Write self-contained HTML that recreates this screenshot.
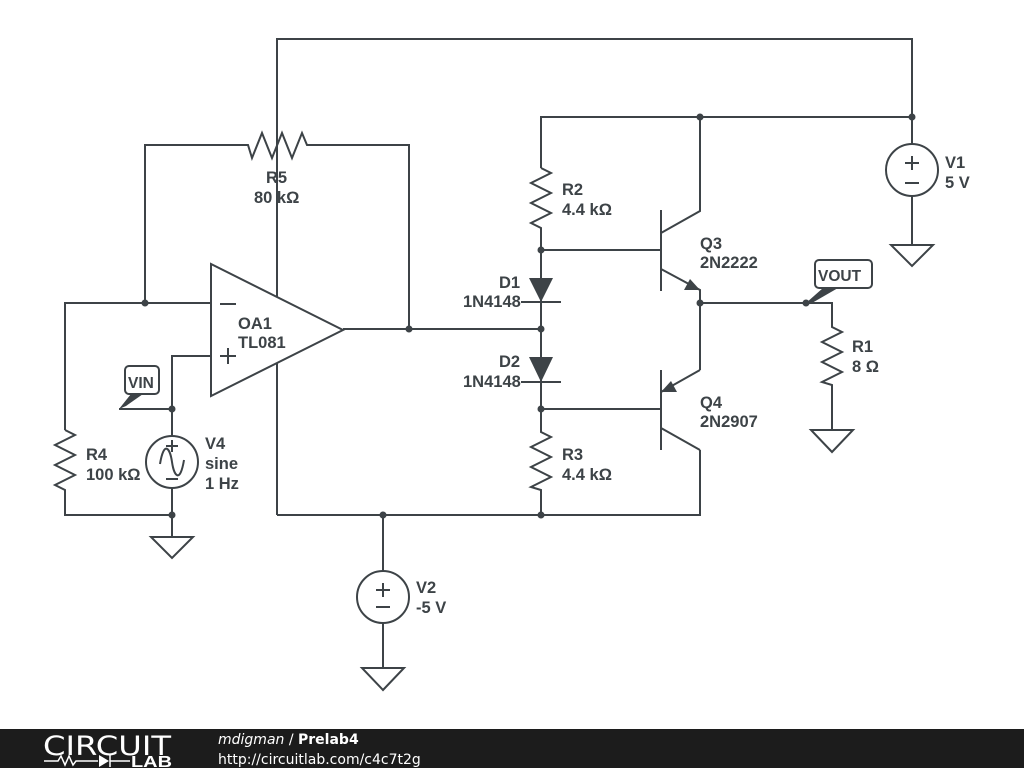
<!DOCTYPE html>
<html><head><meta charset="utf-8"><style>
html,body{margin:0;padding:0;background:#fff;}
svg{display:block;}
text{font-family:"Liberation Sans",Arial,sans-serif;font-weight:bold;font-size:16.5px;fill:#3d4347;}
</style></head><body>
<svg width="1024" height="768" viewBox="0 0 1024 768" xmlns="http://www.w3.org/2000/svg">
<g stroke="#3d4347" stroke-width="2" fill="none" stroke-linejoin="miter">
<polyline points="277,515 277,39 912,39 912,144"/>
<polyline points="145,303 145,145 248,145 252,158 262,133 272,158 282,133 292,158 302,133 307,145 409,145 409,329"/>
<line x1="343" y1="329" x2="541" y2="329"/>
<polyline points="211,303 65,303 65,430"/>
<polyline points="65,430 75,435 55,445 75,455 55,465 75,475 55,485 65,490 65,515 172,515"/>
<polyline points="211,356 172,356 172,436"/>
<line x1="172" y1="488" x2="172" y2="537"/>
<circle cx="172" cy="462" r="26"/>
<path d="M160,464 C164,440 170,448 172,462 C174,476 180,484 184,460"/>
<polygon points="151,537 193,537 172,558"/>
<polygon points="891,245 933,245 912,266"/>
<polygon points="362,668 404,668 383,690"/>
<polygon points="811,430 853,430 832,452"/>
<polyline points="541,168 541,117 912,117"/>
<polyline points="541,168 551,173 531,183 551,193 531,203 551,213 531,223 541,228 541,409"/>
<polyline points="541,409 541,432 551,437 531,447 551,457 531,467 551,477 531,487 541,490 541,515"/>
<line x1="521" y1="302" x2="561" y2="302"/>
<line x1="521" y1="382" x2="561" y2="382"/>
<polyline points="277,515 700,515 700,450"/>
<line x1="383" y1="515" x2="383" y2="571"/>
<line x1="383" y1="623" x2="383" y2="668"/>
<circle cx="383" cy="597" r="26"/>
<circle cx="912" cy="170" r="26"/>
<line x1="912" y1="196" x2="912" y2="245"/>
<line x1="541" y1="250" x2="661" y2="250"/>
<line x1="661" y1="210" x2="661" y2="291"/>
<polyline points="661,233 700,211 700,117"/>
<polyline points="661,269 700,290 700,370"/>
<line x1="541" y1="409" x2="661" y2="409"/>
<line x1="661" y1="370" x2="661" y2="450"/>
<line x1="700" y1="370" x2="661" y2="392"/>
<line x1="661" y1="428" x2="700" y2="450"/>
<polyline points="700,303 832,303 832,327 842,332 822,342 842,352 822,362 842,372 822,382 832,385 832,430"/>
<rect x="125" y="366" width="34" height="28" rx="4" fill="#fff"/>
<rect x="815" y="260" width="57" height="28" rx="4" fill="#fff"/>
</g>
<polygon points="211,264 211,396 343,330" fill="#fff" stroke="#3d4347" stroke-width="2"/>
<g stroke="#3d4347" stroke-width="2">
<line x1="220" y1="304" x2="236" y2="304"/>
<line x1="220" y1="356" x2="236" y2="356"/><line x1="228" y1="348" x2="228" y2="364"/>
<line x1="905" y1="163" x2="919" y2="163"/><line x1="912" y1="156" x2="912" y2="170"/>
<line x1="905" y1="183" x2="919" y2="183"/>
<line x1="376" y1="590" x2="390" y2="590"/><line x1="383" y1="583" x2="383" y2="597"/>
<line x1="376" y1="607" x2="390" y2="607"/>
<line x1="166" y1="446" x2="178" y2="446"/><line x1="172" y1="440" x2="172" y2="452"/>
<line x1="166" y1="479" x2="178" y2="479"/>
</g>
<g fill="#3d4347">
<polygon points="529,278 553,278 541,302"/>
<polygon points="529,357 553,357 541,382"/>
<polygon points="700,290 684,290 690,279"/>
<polygon points="661,392 677,392 671,381"/>
<polygon points="119,409 131,394 143,394 126,406"/>
<line x1="119" y1="409" x2="172" y2="409" stroke="#3d4347" stroke-width="2"/>
<polygon points="806,303 823,288 838,288 812,303"/>
<circle cx="145" cy="303" r="3.5"/><circle cx="409" cy="329" r="3.5"/>
<circle cx="172" cy="409" r="3.5"/><circle cx="172" cy="515" r="3.5"/>
<circle cx="541" cy="250" r="3.5"/><circle cx="541" cy="329" r="3.5"/>
<circle cx="541" cy="409" r="3.5"/><circle cx="541" cy="515" r="3.5"/>
<circle cx="383" cy="515" r="3.5"/><circle cx="700" cy="117" r="3.5"/>
<circle cx="912" cy="117" r="3.5"/><circle cx="700" cy="303" r="3.5"/>
<circle cx="806" cy="303" r="3.5"/>
</g>
<text x="266" y="183">R5</text><text x="254" y="203">80 kΩ</text>
<text x="238" y="329">OA1</text><text x="238" y="348">TL081</text>
<text x="128" y="388" style="font-size:15.5px">VIN</text>
<text x="86" y="460">R4</text><text x="86" y="480">100 kΩ</text>
<text x="205" y="449">V4</text><text x="205" y="469">sine</text><text x="205" y="489">1 Hz</text>
<text x="562" y="195">R2</text><text x="562" y="215">4.4 kΩ</text>
<text x="499" y="288">D1</text><text x="463" y="307">1N4148</text>
<text x="499" y="367">D2</text><text x="463" y="387">1N4148</text>
<text x="562" y="460">R3</text><text x="562" y="480">4.4 kΩ</text>
<text x="700" y="249">Q3</text><text x="700" y="268">2N2222</text>
<text x="700" y="408">Q4</text><text x="700" y="427">2N2907</text>
<text x="818" y="281" style="font-size:15.5px">VOUT</text>
<text x="852" y="352">R1</text><text x="852" y="372">8 Ω</text>
<text x="945" y="168">V1</text><text x="945" y="188">5 V</text>
<text x="416" y="593">V2</text><text x="416" y="613">-5 V</text>
<rect x="0" y="729" width="1024" height="39" fill="#1c1c1c"/>
<text x="43" y="755" textLength="128" lengthAdjust="spacingAndGlyphs" style="font-family:'DejaVu Sans',sans-serif;font-weight:normal;font-size:27px;fill:#fff">CIRCUIT</text>
<g stroke="#fff" stroke-width="1.5" fill="none"><polyline points="44,761 58,761 61,756 65,765 69,756 73,765 76,761 98,761"/><line x1="110" y1="755" x2="110" y2="767"/><line x1="110" y1="761" x2="130" y2="761"/></g>
<polygon points="99,755 99,767 109,761" fill="#fff"/>
<text x="131" y="767" textLength="41" lengthAdjust="spacingAndGlyphs" style="font-size:16px;fill:#fff">LAB</text>
<text x="218" y="744" style="font-family:'DejaVu Sans',sans-serif;font-size:14px;font-style:italic;font-weight:normal;fill:#fff">mdigman <tspan font-style="normal">/</tspan> <tspan font-weight="bold" font-style="normal">Prelab4</tspan></text>
<text x="218" y="764" style="font-family:'DejaVu Sans',sans-serif;font-size:14px;font-weight:normal;fill:#fff">http://circuitlab.com/c4c7t2g</text>
</svg>
</body></html>
